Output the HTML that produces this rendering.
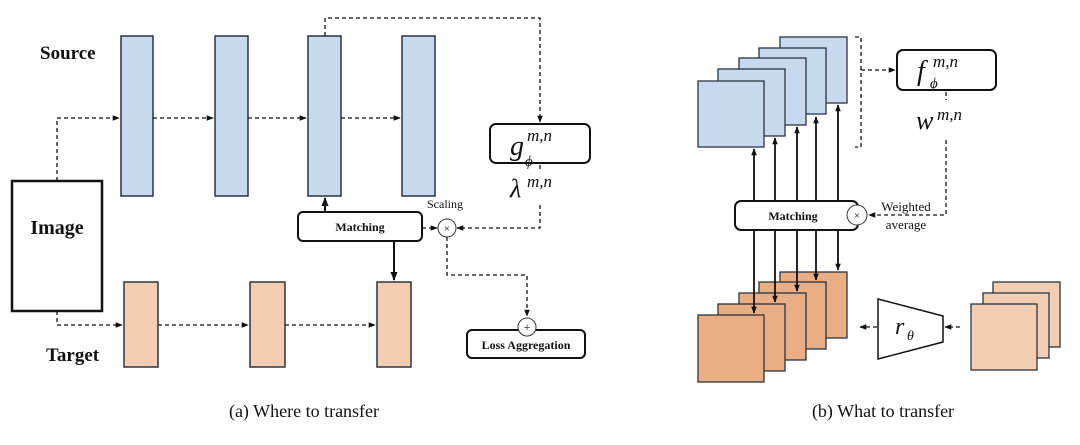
<!DOCTYPE html>
<html><head><meta charset="utf-8"><style>
html,body{margin:0;padding:0;background:#fff;width:1080px;height:445px;overflow:hidden}
svg{display:block}
text{font-family:"Liberation Serif",serif;fill:#111}
</style></head><body>
<svg width="1080" height="445" viewBox="0 0 1080 445" xmlns="http://www.w3.org/2000/svg">
<defs>
<marker id="a" viewBox="0 0 10 10" refX="9" refY="5" markerWidth="7" markerHeight="7" markerUnits="userSpaceOnUse" orient="auto"><path d="M0,1 L10,5 L0,9 z" fill="#111"/></marker>
<marker id="b" viewBox="0 0 10 10" refX="9" refY="5" markerWidth="9" markerHeight="9" markerUnits="userSpaceOnUse" orient="auto"><path d="M0,1 L10,5 L0,9 z" fill="#111"/></marker>
</defs>
<g stroke="#2a3442" stroke-width="1.5">
<rect x="121" y="36" width="32" height="160" fill="#c6d9ef"/>
<rect x="215" y="36" width="33" height="160" fill="#c6d9ef"/>
<rect x="308" y="36" width="33" height="160" fill="#c6d9ef"/>
<rect x="402" y="36" width="33" height="160" fill="#c6d9ef"/>
<rect x="124" y="282" width="34" height="85" fill="#f3cdb1"/>
<rect x="250" y="282" width="35" height="85" fill="#f3cdb1"/>
<rect x="377" y="282" width="34" height="85" fill="#f3cdb1"/>
</g>
<rect x="12" y="181" width="90" height="130" fill="#fff" stroke="#111" stroke-width="2.5"/>
<g fill="none" stroke="#111" stroke-width="1.3" stroke-dasharray="4,3">
<path d="M57,181 V118 H119" marker-end="url(#a)"/>
<path d="M153,118 H213" marker-end="url(#a)"/>
<path d="M248,118 H306" marker-end="url(#a)"/>
<path d="M341,118 H400" marker-end="url(#a)"/>
<path d="M57,311 V325 H122" marker-end="url(#a)"/>
<path d="M158,325 H248" marker-end="url(#a)"/>
<path d="M285,325 H375" marker-end="url(#a)"/>
<path d="M325,36 V18 H540 V122" marker-end="url(#a)"/>
<path d="M540,165 V172"/>
<path d="M540,205 V228 H457" marker-end="url(#a)"/>
<path d="M422,228 H437" marker-end="url(#a)"/>
<path d="M447,237 V275 H527 V316" marker-end="url(#a)"/>
<path d="M855,37 H861 V147 H855"/>
<path d="M861,70 H895" marker-end="url(#a)"/>
<path d="M946,92 V100"/>
<path d="M946,140 V215 H869" marker-end="url(#a)"/>
<path d="M960,327 H945" marker-end="url(#a)"/>
<path d="M877,327 H860" marker-end="url(#a)"/>
</g>
<g fill="none" stroke="#111" stroke-width="2">
<path d="M325,212 V198" marker-end="url(#b)"/>
<path d="M394,241 V280" marker-end="url(#b)"/>
</g>
<rect x="298" y="212" width="124" height="29" rx="5" fill="#fff" stroke="#111" stroke-width="2"/>
<text x="360" y="231" font-size="12" font-weight="bold" text-anchor="middle">Matching</text>
<circle cx="447" cy="228" r="9" fill="#fff" stroke="#333" stroke-width="1"/>
<text x="447" y="232" font-size="11" text-anchor="middle">×</text>
<text x="445" y="208" font-size="12" text-anchor="middle" fill="#444">Scaling</text>
<rect x="490" y="124" width="100" height="39" rx="6" fill="#fff" stroke="#111" stroke-width="2"/>
<text x="510" y="155" font-size="28" font-style="italic">g</text>
<text x="525" y="166" font-size="15" font-style="italic">ϕ</text>
<text x="527" y="141" font-size="17" font-style="italic">m,n</text>
<text x="510" y="197" font-size="26" font-style="italic">λ</text>
<text x="527" y="187" font-size="17" font-style="italic">m,n</text>
<rect x="467" y="330" width="118" height="28" rx="5" fill="#fff" stroke="#111" stroke-width="2"/>
<text x="526" y="349" font-size="12" font-weight="bold" text-anchor="middle">Loss Aggregation</text>
<circle cx="527" cy="327" r="9" fill="#fff" stroke="#333" stroke-width="1"/>
<text x="527" y="331" font-size="12" text-anchor="middle">+</text>
<text x="40" y="59" font-size="19" font-weight="bold">Source</text>
<text x="57" y="234" font-size="20" font-weight="bold" text-anchor="middle">Image</text>
<text x="46" y="361" font-size="19" font-weight="bold">Target</text>
<g stroke="#2a3442" stroke-width="1.3" fill="#c6d9ef">
<rect x="780" y="37" width="67" height="66"/>
<rect x="759" y="48" width="67" height="66"/>
<rect x="739" y="58" width="67" height="67"/>
<rect x="718" y="69" width="67" height="67"/>
<rect x="698" y="81" width="66" height="66"/>
</g>
<g stroke="#2a3442" stroke-width="1.3" fill="#e9ae84">
<rect x="780" y="272" width="67" height="66"/>
<rect x="759" y="282" width="67" height="67"/>
<rect x="739" y="293" width="67" height="67"/>
<rect x="718" y="304" width="67" height="67"/>
<rect x="698" y="315" width="66" height="67"/>
</g>
<g stroke="#2a3442" stroke-width="1.3" fill="#f3cdb1">
<rect x="993" y="282" width="67" height="65"/>
<rect x="983" y="293" width="66" height="65"/>
<rect x="971" y="304" width="66" height="66"/>
</g>
<g fill="none" stroke="#111" stroke-width="1.8">
<path d="M754,201 V149" marker-end="url(#a)"/>
<path d="M775,201 V138" marker-end="url(#a)"/>
<path d="M797,201 V127" marker-end="url(#a)"/>
<path d="M816,201 V117" marker-end="url(#a)"/>
<path d="M838,201 V105" marker-end="url(#a)"/>
<path d="M754,230 V313" marker-end="url(#a)"/>
<path d="M775,230 V302" marker-end="url(#a)"/>
<path d="M797,230 V291" marker-end="url(#a)"/>
<path d="M816,230 V280" marker-end="url(#a)"/>
<path d="M838,230 V270" marker-end="url(#a)"/>
</g>
<rect x="735" y="201" width="123" height="29" rx="6" fill="#fff" stroke="#111" stroke-width="2"/>
<text x="793" y="220" font-size="12" font-weight="bold" text-anchor="middle">Matching</text>
<circle cx="857" cy="215" r="10" fill="#fff" stroke="#333" stroke-width="1"/>
<text x="857" y="219" font-size="11" text-anchor="middle">×</text>
<text x="906" y="211" font-size="13" text-anchor="middle" fill="#333">Weighted</text>
<text x="906" y="229" font-size="13" text-anchor="middle" fill="#333">average</text>
<rect x="897" y="50" width="99" height="40" rx="6" fill="#fff" stroke="#111" stroke-width="2"/>
<text x="917" y="80" font-size="28" font-style="italic">f</text>
<text x="930" y="88" font-size="15" font-style="italic">ϕ</text>
<text x="933" y="67" font-size="17" font-style="italic">m,n</text>
<text x="916" y="129" font-size="26" font-style="italic">w</text>
<text x="937" y="120" font-size="17" font-style="italic">m,n</text>
<path d="M878,299 L943,316 L943,342 L878,359 Z" fill="#fff" stroke="#111" stroke-width="1.5"/>
<text x="895" y="334" font-size="24" font-style="italic">r</text>
<text x="907" y="340" font-size="14" font-style="italic">θ</text>
<text x="304" y="417" font-size="18" text-anchor="middle">(a)  Where to transfer</text>
<text x="883" y="417" font-size="18" text-anchor="middle">(b)  What to transfer</text>
</svg>
</body></html>
